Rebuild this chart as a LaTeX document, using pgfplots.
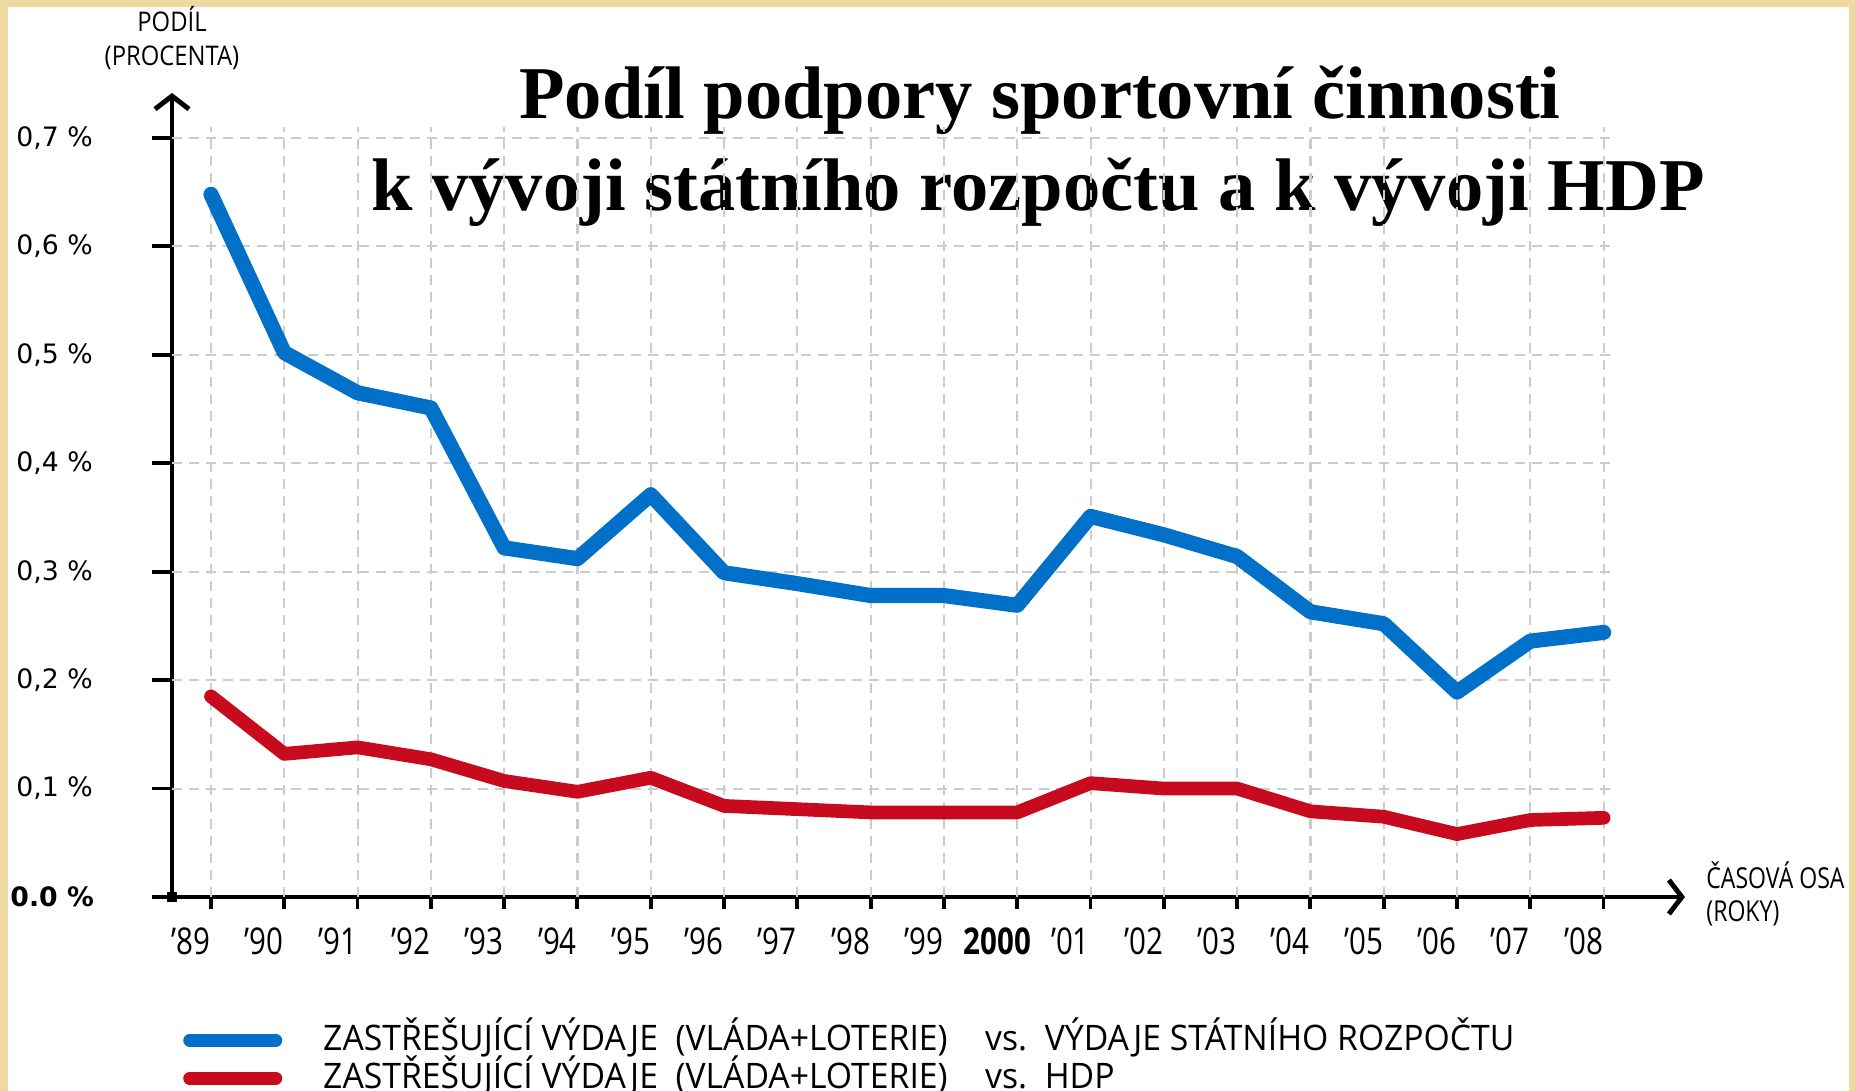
\documentclass[border=0pt]{standalone}
\usepackage{pgfplots}
\pgfplotsset{compat=1.18}
\usetikzlibrary{arrows.meta}
\usepackage{fontspec}
\setmainfont{Liberation Serif}
\newfontfamily\labf[FakeStretch=0.88]{Open Sans}
\newfontfamily\axf[FakeStretch=0.8]{Open Sans}
\newfontfamily\legf[FakeStretch=0.96]{Open Sans}
\newfontfamily\yearf[FakeStretch=0.8]{Open Sans}
\newfontfamily\tickf{DejaVu Sans}
\definecolor{lineBlue}{HTML}{0070C8}
\definecolor{lineRed}{HTML}{C80A1E}
\definecolor{frameGold}{HTML}{EFD9A0}
\definecolor{gridGray}{HTML}{CCCCCC}

\newcommand{\legtext}[1]{\makebox[6.62cm][l]{ZASTŘEŠUJÍCÍ VÝDAJE\enspace(VLÁDA+LOTERIE)}vs.\enspace #1}

\begin{document}
\begin{tikzpicture}
\path[use as bounding box] (0,0) rectangle (18.55,10.91);
\fill[frameGold] (0,0) rectangle (18.55,10.91);
\fill[white] (0.08,-0.1) rectangle (18.49,10.84);

\node[anchor=base, font=\fontsize{21.2}{26}\selectfont\bfseries] at (10.40,9.72) {Podíl podpory sportovní činnosti};
\node[anchor=base, font=\fontsize{21.2}{26}\selectfont\bfseries] at (10.38,8.80) {k vývoji státního rozpočtu a k vývoji HDP};

\begin{axis}[
  at={(1.72cm,1.94cm)}, anchor=south west,
  scale only axis, width=15.13cm, height=8.04cm,
  xmin=1988.468, xmax=2009.11, ymin=0, ymax=0.7415,
  axis lines=left,
  axis line style={line width=1.4pt, -{Straight Barb[length=0.13cm,width=0.34cm]}},
  clip=false,
  tick align=outside,
  tick style={black, line width=1.1pt},
  xtick style={/pgfplots/major tick length=0.12cm},
  ytick style={/pgfplots/major tick length=0.2cm},
  xtick={1989,...,2008},
  xticklabels={’89,’90,’91,’92,’93,’94,’95,’96,’97,’98,’99,\textbf{2000},’01,’02,’03,’04,’05,’06,’07,’08},
  xticklabel style={font=\yearf\fontsize{10.5}{12}\selectfont, xshift=-0.2cm, yshift=-0.03cm},
  ytick={0,0.1,0.2,0.3,0.4,0.5,0.6,0.7},
  yticklabels={\hspace*{-0.06cm}\textbf{0.0 \%},{0,1 \%},{0,2 \%},{0,3 \%},{0,4 \%},{0,5 \%},{0,6 \%},{0,7 \%}},
  yticklabel style={font=\tickf\fontsize{7.6}{9}\selectfont, anchor=west, xshift=-1.53cm},
  legend cell align=left,
  legend image code/.code={\draw[#1, line width=3.7pt, line cap=round] (0.065cm,0cm) -- (0.925cm,0cm);},
  legend style={draw=none, fill=none, at={(axis description cs:0.0,-0.1487)}, anchor=north west,
    font=\legf\fontsize{10}{12}\selectfont, row sep=0.06cm,
    nodes={inner sep=0pt, text height=0.26cm, text depth=0.06cm},
    /tikz/every odd column/.append style={column sep=0.41cm}},
]
\pgfplotsinvokeforeach{1989,...,2008}{
  \draw[gridGray, dash pattern=on 0.1cm off 0.07cm, line width=0.6pt] (axis cs:#1,0) -- (axis cs:#1,0.71);
}
\pgfplotsinvokeforeach{0.1,0.2,0.3,0.4,0.5,0.6,0.7}{
  \draw[gridGray, dash pattern=on 0.1cm off 0.07cm, line width=0.6pt] (axis cs:1988.468,#1) -- (axis cs:2008.08,#1);
}
\addplot[lineBlue, line width=4.3pt, line join=round, line cap=round] coordinates {
  (1989,0.648) (1990,0.502) (1991,0.465) (1992,0.451) (1993,0.322) (1994,0.312)
  (1995,0.371) (1996,0.299) (1997,0.289) (1998,0.278) (1999,0.278) (2000,0.269)
  (2001,0.351) (2002,0.334) (2003,0.314) (2004,0.263) (2005,0.252) (2006,0.189)
  (2007,0.236) (2008,0.244)};
\addlegendentry{\legtext{VÝDAJE STÁTNÍHO ROZPOČTU}}
\addplot[lineRed, line width=3.9pt, line join=round, line cap=round] coordinates {
  (1989,0.185) (1990,0.132) (1991,0.138) (1992,0.127) (1993,0.107) (1994,0.097)
  (1995,0.110) (1996,0.084) (1997,0.081) (1998,0.078) (1999,0.078) (2000,0.078)
  (2001,0.105) (2002,0.100) (2003,0.100) (2004,0.079) (2005,0.074) (2006,0.058)
  (2007,0.071) (2008,0.073)};
\addlegendentry{\legtext{HDP}}
\addplot[only marks, mark=square*, mark size=0.04cm, black, forget plot] coordinates {(1988.468,0)};
\end{axis}

\node[anchor=base, font=\labf\fontsize{7.7}{9}\selectfont] at (1.72,10.59) {PODÍL};
\node[anchor=base, font=\labf\fontsize{7.7}{9}\selectfont] at (1.72,10.25) {(PROCENTA)};
\node[anchor=base west, font=\axf\fontsize{8.2}{9}\selectfont] at (16.94,2.02) {ČASOVÁ OSA};
\node[anchor=base west, font=\axf\fontsize{8.2}{9}\selectfont] at (16.94,1.69) {(ROKY)};
\end{tikzpicture}
\end{document}
